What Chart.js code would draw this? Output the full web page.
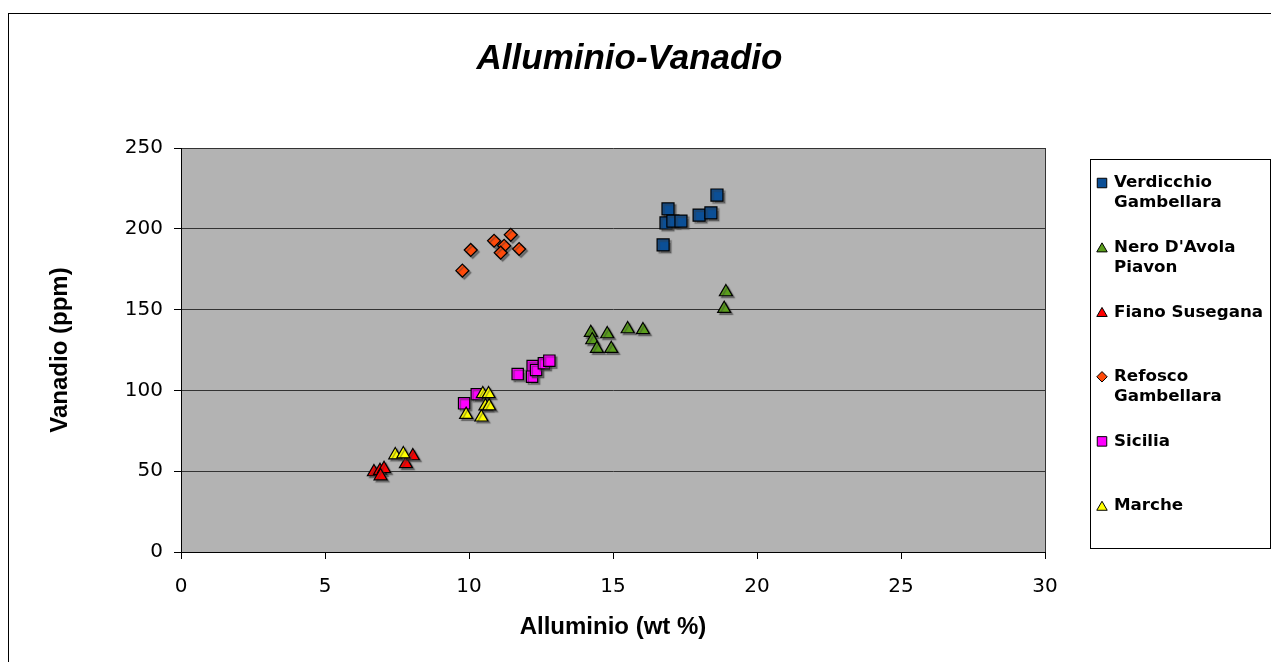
<!DOCTYPE html>
<html>
<head>
<meta charset="utf-8">
<script src="https://cdn.jsdelivr.net/npm/chart.js@4.4.1/dist/chart.umd.min.js"></script>
<style>
  html, body { margin: 0; padding: 0; background: #fff; overflow: hidden; }
  #wrap { position: absolute; left: 0; top: 0; width: 1271px; height: 662px; }
</style>
</head>
<body>
<div id="wrap"><canvas id="c" width="1271" height="662"></canvas></div>
<script>
// ---------------- DATA ----------------
const seriesNames = ["Verdicchio\nGambellara", "Nero D'Avola\nPiavon", "Fiano Susegana", "Refosco\nGambellara", "Sicilia", "Marche"];

const verdicchioAl = [16.91, 16.84, 17.08, 17.36, 17.99, 18.40, 18.61, 16.74];
const verdicchioV  = [212.3, 203.6, 204.8, 204.8, 208.5, 209.8, 220.9, 190.0];

const neroAl = [14.23, 14.28, 14.80, 14.44, 14.94, 15.51, 16.04, 18.92, 18.86];
const neroV  = [135.7, 131.2, 134.9, 125.8, 125.8, 138.0, 137.4, 160.9, 150.6];

const fianoAl = [6.70, 6.91, 7.05, 6.93, 7.81, 8.05];
const fianoV  = [49.5, 50.3, 51.5, 47.0, 54.5, 59.4];

const refoscoAl = [9.77, 10.06, 10.87, 11.45, 11.22, 11.10, 11.74];
const refoscoV  = [174.1, 186.9, 192.6, 196.3, 189.5, 185.2, 187.5];

const siciliaAl = [11.69, 12.21, 12.19, 12.33, 12.60, 12.79, 10.27, 9.83];
const siciliaV  = [110.1, 115.1, 108.5, 112.6, 116.8, 118.4, 97.6, 92.0];

const marcheAl = [10.48, 10.68, 10.57, 10.70, 9.90, 10.43, 7.44, 7.72];
const marcheV  = [97.8, 97.8, 90.3, 90.3, 85.0, 83.4, 60.0, 60.6];

const xTicks = [0, 5, 10, 15, 20, 25, 30];
const yTicks = [0, 50, 100, 150, 200, 250];

const titleText = "Alluminio-Vanadio";
const xTitle = "Alluminio (wt %)";
const yTitle = "Vanadio (ppm)";

// ---------------- STYLES ----------------
const styles = [
  { color: '#0B4F96', style: 'rect', r: 8.5 },
  { color: '#5A9E1C', style: 'triangle', r: 7.5 },
  { color: '#FF0000', style: 'triangle', r: 7.5 },
  { color: '#FF4A0A', style: 'rectRot', r: 6.5 },
  { color: '#FF00FF', style: 'rect', r: 8 },
  { color: '#FFFF00', style: 'triangle', r: 7.5 }
];

function zip(xs, ys) { return xs.map((x, i) => ({ x: x, y: ys[i] })); }
const allData = [
  zip(verdicchioAl, verdicchioV),
  zip(neroAl, neroV),
  zip(fianoAl, fianoV),
  zip(refoscoAl, refoscoV),
  zip(siciliaAl, siciliaV),
  zip(marcheAl, marcheV)
];

const datasets = allData.map((d, i) => ({
  label: seriesNames[i].replace('\n', ' '),
  legendLines: seriesNames[i].split('\n'),
  data: d,
  showLine: false,
  pointStyle: styles[i].style,
  pointRadius: styles[i].r,
  pointHoverRadius: styles[i].r,
  backgroundColor: styles[i].color,
  borderColor: '#000',
  pointBorderWidth: 1.2,
  order: allData.length - i
}));

// ---------------- PLUGINS ----------------
const frame = {
  id: 'frame',
  beforeDraw(chart) {
    const { ctx, chartArea: a } = chart;
    ctx.save();
    ctx.fillStyle = '#fff';
    ctx.fillRect(0, 0, chart.width, chart.height);
    ctx.strokeStyle = '#000';
    ctx.lineWidth = 1;
    ctx.strokeRect(8.5, 13.5, 1400, 800);
    ctx.fillStyle = '#B3B3B3';
    ctx.fillRect(a.left, a.top, a.right - a.left, a.bottom - a.top);
    ctx.restore();
  },
  beforeDatasetsDraw(chart) {
    const ctx = chart.ctx;
    ctx.save();
    ctx.shadowColor = 'rgba(60,60,60,0.55)';
    ctx.shadowOffsetX = 2;
    ctx.shadowOffsetY = 2;
    ctx.shadowBlur = 1;
  },
  afterDatasetsDraw(chart) {
    chart.ctx.restore();
  }
};

function drawMarker(ctx, style, x, y, size, fill) {
  ctx.save();
  ctx.fillStyle = fill;
  ctx.strokeStyle = '#000';
  ctx.lineWidth = 1;
  ctx.beginPath();
  if (style === 'rect') {
    ctx.rect(x - size / 2, y - size / 2, size, size);
  } else if (style === 'triangle') {
    ctx.moveTo(x, y - size * 0.5);
    ctx.lineTo(x + size * 0.55, y + size * 0.45);
    ctx.lineTo(x - size * 0.55, y + size * 0.45);
    ctx.closePath();
  } else {
    ctx.moveTo(x, y - size * 0.55);
    ctx.lineTo(x + size * 0.55, y);
    ctx.lineTo(x, y + size * 0.55);
    ctx.lineTo(x - size * 0.55, y);
    ctx.closePath();
  }
  ctx.fill();
  ctx.stroke();
  ctx.restore();
}

const sideLegend = {
  id: 'sideLegend',
  afterDraw(chart) {
    const ctx = chart.ctx;
    const bx = 1090.5, by = 159.5, bw = 180, bh = 389;
    ctx.save();
    ctx.strokeStyle = '#000';
    ctx.lineWidth = 1;
    ctx.strokeRect(bx, by, bw, bh);
    ctx.font = 'bold 16.7px "DejaVu Sans"';
    ctx.fillStyle = '#000';
    ctx.textBaseline = 'middle';
    ctx.textAlign = 'left';
    chart.data.datasets.forEach((ds, i) => {
      const y0 = 183 + i * 64.6;
      drawMarker(ctx, ds.pointStyle, 1102, y0, 9.5, ds.backgroundColor);
      ds.legendLines.forEach((line, j) => {
        ctx.fillText(line, 1114, y0 + j * 20);
      });
    });
    ctx.restore();
  }
};

// ---------------- CHART ----------------
new Chart(document.getElementById('c'), {
  type: 'scatter',
  data: { datasets: datasets },
  options: {
    responsive: false,
    animation: false,
    events: [],
    layout: { padding: { left: 0, right: 12, top: 0, bottom: 0 } },
    plugins: {
      legend: { display: false },
      tooltip: { enabled: false },
      title: {
        display: true,
        text: titleText,
        color: '#000',
        font: { family: 'Liberation Sans', size: 35, weight: 'bold', style: 'italic' },
        padding: { top: 38, bottom: 68 }
      }
    },
    scales: {
      x: {
        type: 'linear',
        min: 0, max: 30,
        afterBuildTicks(scale) { scale.ticks = xTicks.map(v => ({ value: v })); },
        afterFit(scale) { scale.height = 110; },
        ticks: {
          color: '#000',
          font: { family: 'DejaVu Sans', size: 20 },
          padding: 16,
          maxRotation: 0
        },
        grid: {
          color: c => (c.tick && c.tick.value === 30) ? '#333' : 'rgba(0,0,0,0)',
          tickColor: '#000',
          tickLength: 7,
          lineWidth: 1
        },
        border: { display: true, color: '#000', width: 1 },
        title: {
          display: true,
          text: xTitle,
          color: '#000',
          font: { family: 'Liberation Sans', size: 24, weight: 'bold' },
          padding: { top: 0, bottom: 20 }
        }
      },
      y: {
        type: 'linear',
        min: 0, max: 250,
        afterBuildTicks(scale) { scale.ticks = yTicks.map(v => ({ value: v })); },
        afterFit(scale) { scale.width = 181; },
        ticks: {
          color: '#000',
          font: { family: 'DejaVu Sans', size: 20 },
          padding: 11
        },
        grid: {
          color: '#333',
          tickColor: '#000',
          tickLength: 7,
          lineWidth: 1
        },
        border: { display: true, color: '#000', width: 1 },
        title: {
          display: true,
          text: yTitle,
          color: '#000',
          font: { family: 'Liberation Sans', size: 24, weight: 'bold' },
          padding: { top: 46, bottom: 0 }
        }
      },
      y2: {
        type: 'linear',
        position: 'right',
        display: true,
        afterFit(scale) { scale.width = 214; },
        ticks: { display: false },
        grid: { display: false, drawTicks: false },
        border: { display: false }
      }
    }
  },
  plugins: [frame, sideLegend]
});
</script>
</body>
</html>
